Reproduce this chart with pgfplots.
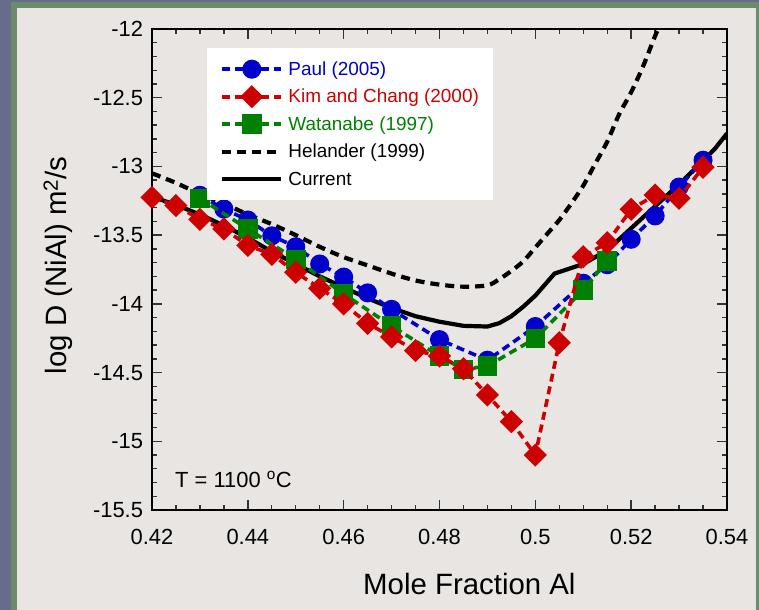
\documentclass[border=0pt]{standalone}
\usepackage{fontspec}
\setmainfont{Liberation Sans}
\usepackage{pgfplots}
\pgfplotsset{compat=1.18}
\definecolor{cblue}{RGB}{0,0,204}
\definecolor{cred}{RGB}{204,0,0}
\definecolor{cgreen}{RGB}{0,128,0}
\definecolor{panel}{RGB}{232,229,226}
\definecolor{slate}{RGB}{104,108,140}
\definecolor{frameg}{RGB}{106,140,104}
\tikzset{
  paul/.style={color=cblue, line width=3.6bp, dash pattern=on 8bp off 5bp, mark=*, mark size=7.7bp, mark options={solid}},
  kim/.style={color=cred, line width=3.6bp, dash pattern=on 8bp off 5bp, mark=square*, mark size=6.4bp, mark options={solid, rotate=45}},
  wat/.style={color=cgreen, line width=3.6bp, dash pattern=on 8bp off 5bp, mark=square*, mark size=8bp, mark options={solid}},
  hel/.style={black, line width=4.2bp, dash pattern=on 9bp off 6bp},
  cur/.style={black, line width=4.2bp},
}
\begin{document}
\begin{tikzpicture}
\fill[slate] (0bp,0bp) rectangle (759bp,610bp);
\fill[frameg] (11bp,0bp) rectangle (759bp,608bp);
\fill[panel] (17bp,0bp) rectangle (756bp,602bp);
\begin{axis}[
  at={(152bp,100bp)}, anchor=south west,
  scale only axis, width=575bp, height=481bp,
  xmin=0.42, xmax=0.54, ymin=-15.5, ymax=-12,
  xtick={0.42,0.44,0.46,0.48,0.5,0.52,0.54},
  ytick={-15.5,-15,-14.5,-14,-13.5,-13,-12.5,-12},
  minor x tick num=3, minor y tick num=4,
  tick align=inside, tick pos=both,
  major tick length=10bp, minor tick length=5bp,
  axis line style={line width=1.6bp},
  tick style={black!80, line width=1.4bp},
  /pgf/number format/assume math mode=true,
  tick label style={font=\fontsize{22}{26}\selectfont},
  yticklabel style={xshift=-5.5bp},
  xticklabel style={anchor=base, yshift=-34bp},
  xlabel={Mole Fraction Al},
  ylabel={log D (NiAl) m\textsuperscript{2}/s},
  label style={font=\fontsize{29.5}{34}\selectfont},
  xlabel style={at={(axis description cs:0.552,-0.1767)}, anchor=base},
  ylabel style={at={(axis description cs:-0.148,0.509)}, anchor=base},
  clip mode=individual,
  legend style={at={(axis description cs:0.0957,0.9605)}, anchor=north west, draw=none, fill=white,
    inner xsep=13bp, inner ysep=11bp, font=\fontsize{19}{22}\selectfont, row sep=7.5bp,
    /tikz/column sep=4bp, nodes={inner sep=1bp, text height=15bp, text depth=3bp}},
  legend cell align=left,
  legend image code/.code={\draw[mark repeat=2,mark phase=2,#1] plot coordinates {(0bp,0bp) (29.5bp,0bp) (59bp,0bp)};},
]
\addlegendimage{paul}
\addlegendimage{kim}
\addlegendimage{wat}
\addlegendimage{hel}
\addlegendimage{cur}
\legend{\textcolor{cblue}{Paul (2005)},\textcolor{cred}{Kim and Chang (2000)},\textcolor{cgreen}{Watanabe (1997)},Helander (1999),Current}

\addplot[hel, smooth, forget plot] coordinates {
(0.420,-13.05)(0.425,-13.12)(0.430,-13.20)(0.435,-13.27)(0.440,-13.35)(0.445,-13.42)(0.450,-13.50)
(0.455,-13.585)(0.460,-13.66)(0.465,-13.72)(0.470,-13.78)(0.475,-13.83)(0.480,-13.86)(0.485,-13.875)
(0.490,-13.865)(0.4925,-13.82)(0.495,-13.76)(0.4975,-13.69)(0.500,-13.59)(0.5025,-13.49)(0.505,-13.39)
(0.5075,-13.27)(0.510,-13.14)(0.5125,-12.98)(0.515,-12.82)(0.5175,-12.62)(0.520,-12.46)(0.5225,-12.27)
(0.525,-12.05)(0.5262,-11.96)};

\addplot[cur, forget plot] coordinates {
(0.420,-13.22)(0.425,-13.28)(0.430,-13.35)(0.435,-13.43)(0.440,-13.52)(0.445,-13.62)(0.450,-13.71)
(0.455,-13.80)(0.460,-13.88)(0.465,-13.96)(0.470,-14.03)(0.475,-14.09)(0.480,-14.13)(0.485,-14.16)
(0.490,-14.165)(0.4925,-14.14)(0.495,-14.09)(0.4975,-14.02)(0.500,-13.94)(0.5025,-13.84)(0.504,-13.78)
(0.507,-13.745)(0.510,-13.71)(0.515,-13.61)(0.520,-13.45)(0.525,-13.29)(0.530,-13.13)(0.535,-12.96)
(0.5375,-12.87)(0.540,-12.76)};

\addplot[paul, forget plot] coordinates {
(0.43,-13.21)(0.435,-13.31)(0.44,-13.39)(0.445,-13.505)(0.45,-13.585)(0.455,-13.71)(0.46,-13.805)
(0.465,-13.92)(0.47,-14.04)(0.48,-14.26)(0.49,-14.41)(0.50,-14.165)(0.51,-13.85)(0.515,-13.715)
(0.52,-13.53)(0.525,-13.36)(0.53,-13.15)(0.535,-12.955)};

\addplot[wat, forget plot] coordinates {
(0.43,-13.232)(0.44,-13.455)(0.45,-13.676)(0.46,-13.928)(0.47,-14.161)(0.48,-14.38)(0.485,-14.477)
(0.49,-14.452)(0.50,-14.251)(0.51,-13.899)(0.515,-13.686)};

\addplot[kim, forget plot] coordinates {
(0.42,-13.225)(0.425,-13.285)(0.43,-13.385)(0.435,-13.455)(0.44,-13.575)(0.445,-13.64)(0.45,-13.77)
(0.455,-13.887)(0.46,-14.0)(0.465,-14.142)(0.47,-14.24)(0.475,-14.34)(0.48,-14.38)(0.485,-14.472)
(0.49,-14.663)(0.495,-14.857)(0.50,-15.10)(0.505,-14.283)(0.51,-13.657)(0.515,-13.555)(0.52,-13.312)
(0.525,-13.208)(0.53,-13.232)(0.535,-13.006)};

\node[anchor=base west, inner sep=0pt, font=\fontsize{22}{26}\selectfont] at (axis cs:0.4248,-15.335) {T = 1100 \textsuperscript{o}C};
\end{axis}
\end{tikzpicture}
\end{document}
